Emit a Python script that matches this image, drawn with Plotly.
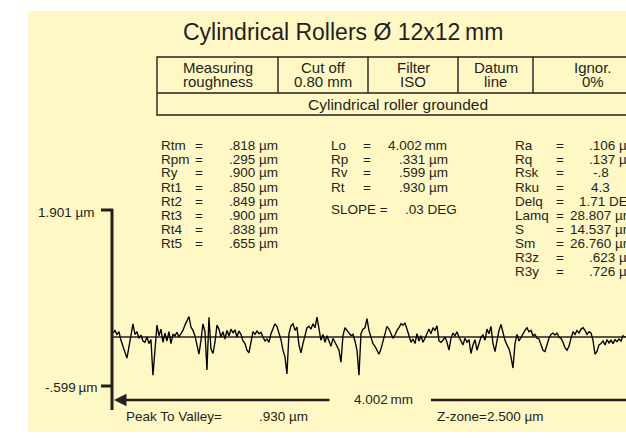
import numpy as np
import plotly.graph_objects as go

W, H = 626, 438

# ---------------- data ----------------
title = "Cylindrical Rollers Ø 12x12\u2009mm"
header_cells = [("Measuring", "roughness"), ("Cut off", "0.80 mm"), ("Filter", "ISO"),
                ("Datum", "line"), ("Ignor.", "0%")]
sample_name = "Cylindrical roller grounded"

left_names = ["Rtm", "Rpm", "Ry", "Rt1", "Rt2", "Rt3", "Rt4", "Rt5"]
left_values = [".818 µm", ".295 µm", ".900 µm", ".850 µm", ".849 µm", ".900 µm", ".838 µm", ".655 µm"]

mid_names = ["Lo", "Rp", "Rv", "Rt"]
mid_values = ["4.002\u2009mm", ".331 µm", ".599 µm", ".930 µm"]
slope_label = "SLOPE ="
slope_value = ".03 DEG"

right_names = ["Ra", "Rq", "Rsk", "Rku", "Delq", "Lamq", "S", "Sm", "R3z", "R3y"]
right_values = [".106 µm", ".137 µm", "-.8", "4.3", "1.71 DEG", "28.807 µm",
                "14.537 µm", "26.760 µm", ".623 µm", ".726 µm"]

z_top_label = "1.901 µm"
z_bottom_label = "-.599\u2009µm"
length_label = "4.002\u2009mm"
peak_to_valley = ("Peak To Valley=", ".930 µm")
z_zone = "Z-zone=2.500 µm"

length_mm = 3.80  # visible part of the 4.002 mm trace
profile_um = [
    0.06, 0.10, 0.04, 0.08, -0.05, -0.14, -0.25, -0.32, -0.15, 0.02,
    0.20, 0.04, 0.08, -0.02, 0.03, -0.06, -0.08, 0.00, -0.10, -0.04,
    -0.58, -0.20, 0.18, 0.02, 0.12, -0.08, 0.06, -0.06, 0.08, -0.10,
    0.04, 0.02, 0.07, 0.00, 0.05, 0.10, 0.18, 0.26, 0.31, 0.15,
    0.10, 0.02, -0.12, -0.26, -0.05, 0.20, 0.08, -0.50, 0.30, -0.18,
    -0.25, -0.08, 0.18, 0.12, 0.00, 0.08, -0.03, 0.10, 0.02, 0.12,
    0.06, 0.11, 0.00, 0.09, 0.04, -0.06, -0.10, -0.20, -0.24, -0.05,
    0.08, 0.04, 0.09, 0.05, 0.07, 0.00, -0.06, -0.03, -0.08, 0.05,
    0.12, 0.20, 0.16, 0.05, -0.04, -0.20, -0.30,
    -0.56, 0.05, 0.17, 0.20, 0.10, 0.15, -0.12, -0.24, -0.10, 0.02,
    0.14, 0.16, 0.12, 0.20, 0.14, 0.30, 0.10, -0.05, 0.04, -0.08,
    0.02, -0.06, -0.14, -0.02, -0.08, -0.14, -0.20, -0.38, 0.02, 0.14,
    0.10, 0.06, 0.02, 0.04, -0.06, -0.20, -0.58, 0.05, 0.12, 0.14,
    0.28, 0.10, -0.02, -0.10, -0.14, -0.20, -0.26, -0.18, -0.05, 0.08,
    0.16, 0.12, 0.04, -0.02, 0.03, 0.10, 0.14, 0.20, 0.18, 0.21,
    0.12, 0.03, -0.08, -0.03, -0.10, 0.05, -0.06, 0.02, -0.08, -0.02,
    0.06, 0.12, 0.05, 0.14, 0.10, 0.17, -0.06, -0.08, -0.05, 0.00,
    -0.08, -0.20, -0.02, 0.06, 0.02, 0.08, 0.00,
    -0.05, -0.12, -0.02, -0.08, -0.04, -0.25, -0.12, -0.04, -0.20, -0.08,
    0.00, 0.03, -0.05, 0.12, 0.05, 0.16, -0.10, -0.22, -0.04, 0.10,
    0.19, 0.05, -0.05, -0.12, -0.18, -0.30, -0.47, -0.10, 0.04, -0.06,
    0.00, 0.04, 0.10, 0.14, 0.08, 0.10, 0.02, 0.04, -0.02, -0.03,
    -0.12, -0.20, -0.22, -0.10, -0.02, 0.04, 0.06, 0.03, 0.06, 0.00,
    -0.02, -0.08, -0.16, -0.20, -0.14, -0.02, 0.08, 0.04, 0.10, 0.06,
    0.12, 0.14, 0.10, 0.04, 0.08, 0.06, -0.05, -0.26, -0.22, -0.12,
    -0.10, -0.06, -0.12, -0.04, -0.09, -0.05, -0.10, -0.04, -0.07, -0.03,
    -0.06, 0.02, 0.00,
]

# ---------------- styling / layout helpers ----------------
INK = "#231f20"
BG = "#fff8c4"
FONT = "Liberation Sans, Arial, sans-serif"


def X(px):
    return px / W


def Y(py):
    return 1 - py / H


# pixel geometry of the plot axis
X0_PX, PX_PER_MM = 112, 135.0
Y0_PX, PX_PER_UM = 337, 66.0
x_range = [-X0_PX / PX_PER_MM, (W - X0_PX) / PX_PER_MM]
y_range = [-(H - Y0_PX) / PX_PER_UM, Y0_PX / PX_PER_UM]

x_mm = np.linspace(0.007, length_mm, len(profile_um))

fig = go.Figure()
fig.add_trace(go.Scatter(x=[0, x_range[1]], y=[0, 0], mode="lines",
                         line=dict(color=INK, width=1.3), hoverinfo="skip"))
fig.add_trace(go.Scatter(x=x_mm, y=profile_um, mode="lines",
                         line=dict(color="#000000", width=1.35), hoverinfo="skip"))

shapes = []
# yellow panel
shapes.append(dict(type="rect", xref="paper", yref="paper", layer="below",
                   x0=X(28), x1=X(640), y0=Y(432), y1=Y(11),
                   fillcolor=BG, line=dict(width=0)))
# table
tl = dict(color=INK, width=1.4)
shapes.append(dict(type="rect", xref="paper", yref="paper", x0=X(157), x1=X(655),
                   y0=Y(115), y1=Y(57), line=tl))
shapes.append(dict(type="line", xref="paper", yref="paper", x0=X(157), x1=X(655),
                   y0=Y(93), y1=Y(93), line=tl))
col_edges = [157, 278, 368, 458, 533, 653]
for cx in col_edges[1:-1]:
    shapes.append(dict(type="line", xref="paper", yref="paper", x0=X(cx), x1=X(cx),
                       y0=Y(57), y1=Y(93), line=tl))
# vertical z axis with end ticks
al = dict(color=INK, width=3)
shapes.append(dict(type="line", xref="paper", yref="paper", x0=X(112), x1=X(112),
                   y0=Y(209), y1=Y(410), line=al))
shapes.append(dict(type="line", xref="paper", yref="paper", x0=X(101), x1=X(113),
                   y0=Y(210), y1=Y(210), line=al))
shapes.append(dict(type="line", xref="paper", yref="paper", x0=X(101), x1=X(112),
                   y0=Y(386), y1=Y(386), line=al))
# right part of the length arrow
shapes.append(dict(type="line", xref="paper", yref="paper", x0=X(431), x1=X(660),
                   y0=Y(400), y1=Y(400), line=dict(color=INK, width=2.5)))

ann = []


def txt(s, x, y, size=13.5, anchor="left"):
    ann.append(dict(text=s, x=X(x), y=Y(y), xref="paper", yref="paper",
                    xanchor=anchor, yanchor="middle", showarrow=False,
                    font=dict(family=FONT, size=size, color=INK)))


txt(title, 343, 32, size=23, anchor="center")

centers = [(a + b) / 2 for a, b in zip(col_edges[:-1], col_edges[1:])]
centers[-1] = 593
for (l1, l2), cx in zip(header_cells, centers):
    txt(l1, cx, 67, size=15, anchor="center")
    txt(l2, cx, 82, size=15, anchor="center")
txt(sample_name, 398, 104, size=15.5, anchor="center")

row_y = [145, 159, 173, 187, 201, 215, 229, 243, 257, 271]
for name, val, yy in zip(left_names, left_values, row_y):
    txt(name, 159, yy)
    txt("=", 199, yy, anchor="center")
    txt(val, 227, yy)

mid_x = [386, 397, 397, 397]
for name, val, yy, vx in zip(mid_names, mid_values, row_y, mid_x):
    txt(name, 329, yy)
    txt("=", 367, yy, anchor="center")
    txt(val, vx, yy)
txt(slope_label, 329, 210)
txt(slope_value, 403, 210)

right_x = [587, 587, 591, 589, 577, 568, 568, 568, 587, 587]
for name, val, yy, vx in zip(right_names, right_values, row_y, right_x):
    txt(name, 513, yy)
    txt("=", 560, yy, anchor="center")
    txt(val, vx, yy)

txt(z_top_label, 97, 212, anchor="right")
txt(z_bottom_label, 100, 387, anchor="right")
txt(length_label, 383, 399, anchor="center")
txt(peak_to_valley[0], 124, 416)
txt(peak_to_valley[1], 257, 416)
txt(z_zone, 435, 416)

# left arrow of the length indicator
ann.append(dict(text="", x=X(114), y=Y(400), xref="paper", yref="paper",
                ax=217, ay=0, showarrow=True, arrowhead=2, arrowsize=1.0,
                arrowwidth=2.5, arrowcolor=INK))

fig.update_layout(
    width=W, height=H, margin=dict(l=0, r=0, t=0, b=0),
    paper_bgcolor="#ffffff", plot_bgcolor="rgba(0,0,0,0)",
    showlegend=False, shapes=shapes, annotations=ann,
    xaxis=dict(range=x_range, visible=False, domain=[0, 1], fixedrange=True),
    yaxis=dict(range=y_range, visible=False, domain=[0, 1], fixedrange=True),
)

fig.write_html("out.html", config={"displayModeBar": False},
               post_script="document.body.style.margin='0';")
